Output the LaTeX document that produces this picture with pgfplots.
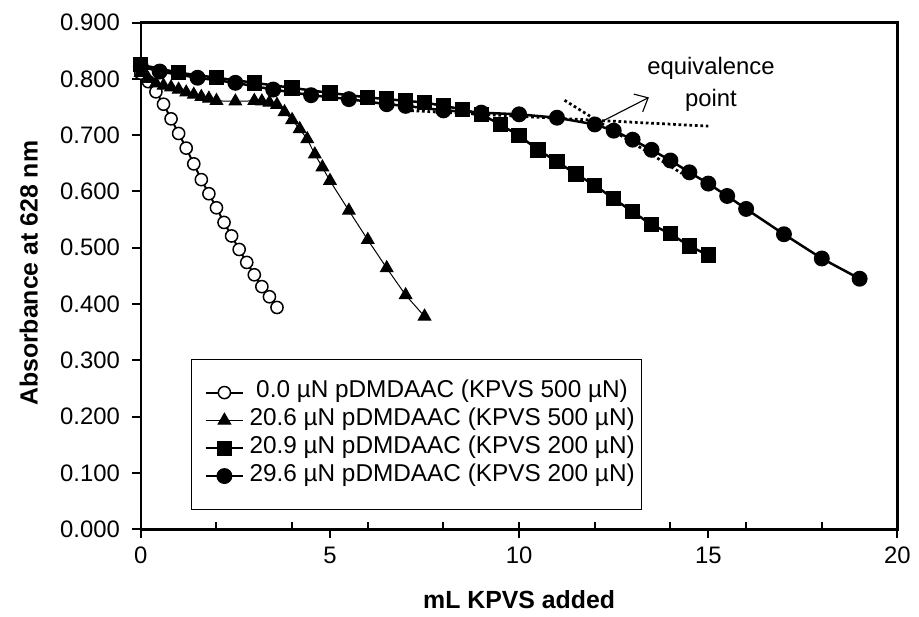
\documentclass[border=0pt]{standalone}
\usepackage{fontspec}
\setmainfont{Liberation Sans}
\usepackage{pgfplots}
\pgfplotsset{compat=1.18}
\usetikzlibrary{calc,arrows.meta}

\begin{document}
\begin{tikzpicture}[font=\fontsize{9.6pt}{11.2pt}\selectfont]
\begin{axis}[
  name=ax,
  scale only axis,
  width=304.6pt, height=204pt,
  xmin=0, xmax=20, ymin=0, ymax=0.9,
  xtick={0,5,10,15,20},
  ytick={0,0.1,0.2,0.3,0.4,0.5,0.6,0.7,0.8,0.9},
  extra x ticks={2,4,6,8,10,12,14,16,18},
  extra x tick labels={},
  extra x tick style={tick align=inside, major tick length=2.8pt, xtick pos=bottom},
  xtick pos=bottom, ytick pos=left,
  tick align=outside,
  major tick length=3.5pt,
  tick style={line width=0.8pt, black},
  axis line style={line width=1pt},
  yticklabel style={xshift=-1.4pt, /pgf/number format/.cd, fixed, fixed zerofill, precision=3, assume math mode=true},
  xticklabel style={/pgf/number format/assume math mode=true},
  every tick label/.append style={font=\fontsize{9.6pt}{11pt}\selectfont},
  xlabel={\bfseries mL KPVS added},
  ylabel={\bfseries Absorbance at 628 nm},
  xlabel style={at={(axis description cs:0.5,-0.138)}, anchor=center, font=\fontsize{10pt}{12pt}\selectfont},
  ylabel style={at={(axis description cs:-0.1480,0.505)}, anchor=center, font=\fontsize{10pt}{12pt}\selectfont},
  clip=false,
  legend style={at={(0.0657,0.3367)}, anchor=north west, draw=black, line width=0.5pt,
    fill=white, inner xsep=2.7pt, inner ysep=7.8pt, column sep=2pt,
    nodes={inner sep=0pt, text height=7.7pt, text depth=3.5pt},
    font=\fontsize{9.8pt}{11.2pt}\selectfont},
  legend cell align=left,
  legend image code/.code={\path (0pt,0pt);
    \draw[mark repeat=2, mark phase=2, #1] plot coordinates {(2.6pt,0pt) (10.2pt,0pt) (17.8pt,0pt)};},
]
% 0.0 uN
\addplot[black, line width=0.8pt, mark=*, mark size=2.45pt, mark options={fill=white, line width=0.6pt}] coordinates {
  (0,0.810) (0.2,0.795) (0.4,0.777) (0.6,0.755) (0.8,0.729) (1.0,0.703)
  (1.2,0.677) (1.4,0.649) (1.6,0.621) (1.8,0.596) (2.0,0.571) (2.2,0.545)
  (2.4,0.521) (2.6,0.497) (2.8,0.474) (3.0,0.452) (3.2,0.431) (3.4,0.413) (3.6,0.394)
};
\addlegendentry{\kern2.7pt0.0\kern2.7pt µN pDMDAAC (KPVS 500 µN)}
% 20.6 uN
\addplot[black, line width=0.4pt, mark=triangle*, mark size=2.9pt, mark options={fill=black}] coordinates {
  (0,0.811) (0.2,0.800) (0.4,0.792) (0.6,0.788) (0.8,0.785) (1.0,0.781)
  (1.2,0.776) (1.4,0.772) (1.6,0.768) (1.8,0.765) (2.0,0.761) (2.5,0.760)
  (3.0,0.761) (3.2,0.760) (3.4,0.758) (3.6,0.754) (3.8,0.741) (4.0,0.727)
  (4.2,0.711) (4.4,0.693) (4.6,0.666) (4.8,0.643) (5.0,0.619) (5.5,0.566)
  (6.0,0.514) (6.5,0.464) (7.0,0.416) (7.5,0.378)
};
\addlegendentry{20.6 µN pDMDAAC (KPVS 500 µN)}
% 20.9 uN
\addplot[black, line width=1pt, mark=square*, mark size=2.6pt, mark options={fill=black}] coordinates {
  (0,0.825) (1,0.811) (2,0.802) (3,0.793) (4,0.784) (5,0.775) (6,0.767)
  (6.5,0.764) (7,0.761) (7.5,0.758) (8,0.752) (8.5,0.746) (9,0.737)
  (9.5,0.719) (10,0.699) (10.5,0.674) (11,0.653) (11.5,0.631) (12,0.611)
  (12.5,0.587) (13,0.564) (13.5,0.541) (14,0.525) (14.5,0.503) (15,0.487)
};
\addlegendentry{20.9 µN pDMDAAC (KPVS 200 µN)}
% 29.6 uN
\addplot[black, line width=1pt, mark=*, mark size=2.7pt, mark options={fill=black}] coordinates {
  (0,0.822) (0.5,0.813) (1.5,0.802) (2.5,0.793) (3.5,0.781) (4.5,0.771)
  (5.5,0.764) (6.5,0.755) (7,0.752) (8,0.744) (9,0.740) (10,0.737)
  (11,0.731) (12,0.719) (12.5,0.708) (13,0.692) (13.5,0.674) (14,0.655)
  (14.5,0.634) (15,0.614) (15.5,0.592) (16,0.569) (17,0.524) (18,0.481) (19,0.445)
};
\addlegendentry{29.6 µN pDMDAAC (KPVS 200 µN)}
% tangent lines
\addplot[black, line width=1.1pt, dash pattern=on 1.1pt off 1.1pt, forget plot] coordinates {(7,0.744) (15,0.716)};
\addplot[black, line width=1.1pt, dash pattern=on 1.1pt off 1.1pt, forget plot] coordinates {(11.2,0.762) (14.3,0.632)};
\draw[line width=0.45pt, -{Straight Barb[length=4.5pt,width=8pt]}] (axis cs:12.12,0.722) -- (axis cs:13.43,0.767);
\node[align=center, font=\fontsize{9.6pt}{12.8pt}\selectfont] at (axis cs:15.07,0.790) {equivalence\\point};
\end{axis}
\path ($(ax.south west)+(-56.68pt,-34.92pt)$) rectangle ($(ax.north east)+(6.28pt,9.08pt)$);
\end{tikzpicture}
\end{document}
